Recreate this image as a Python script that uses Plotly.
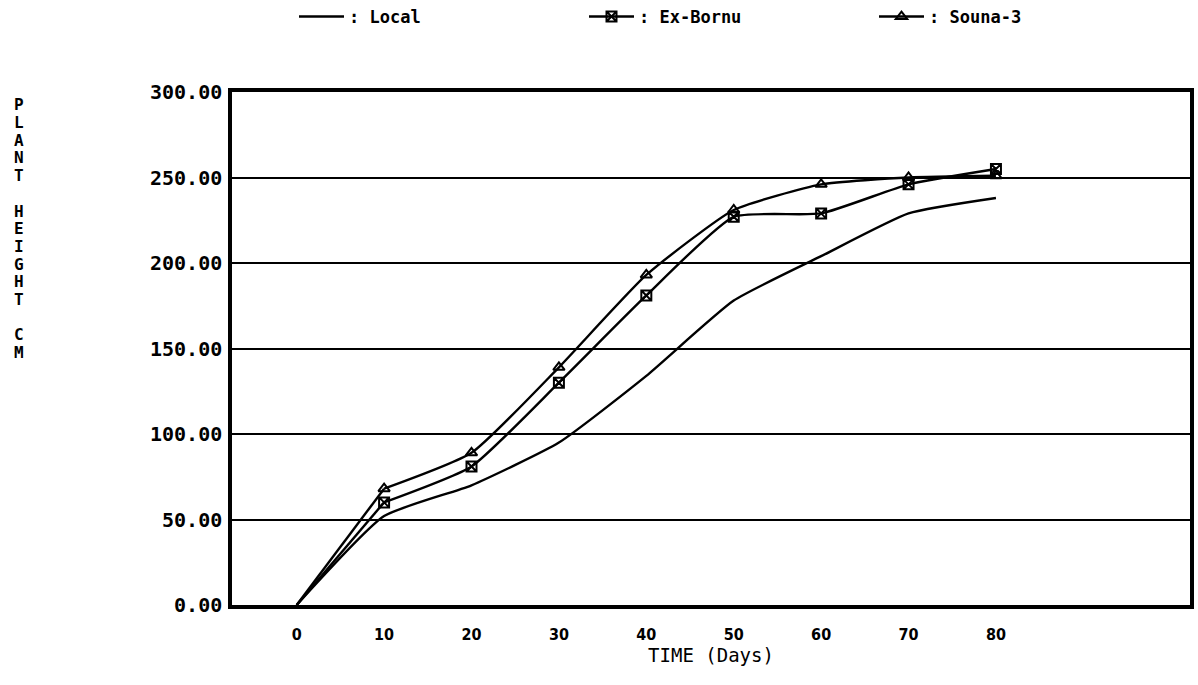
import plotly.graph_objects as go

days = [0, 10, 20, 30, 40, 50, 60, 70, 80]
local = [0, 52, 70, 95, 134, 178, 204, 229, 238]
ex_bornu = [0, 60, 81, 130, 181, 227, 229, 246, 255]
souna3 = [0, 68, 89, 139, 193, 231, 246, 250, 251]

series_names = [": Local", ": Ex-Bornu", ": Souna-3"]
x_ticks = [0, 10, 20, 30, 40, 50, 60, 70, 80]
y_ticks = [0, 50, 100, 150, 200, 250, 300]
y_title = "PLANT HEIGHT CM"

FONT = "DejaVu Sans Mono"
COND = "DejaVu Sans Condensed, DejaVu Sans"

fig = go.Figure()
fig.add_trace(go.Scatter(x=days, y=local, name=series_names[0], mode="lines",
                         line=dict(color="black", width=2.4, shape="spline", smoothing=0.5)))
fig.add_trace(go.Scatter(x=days[1:], y=ex_bornu[1:], name=series_names[1], mode="lines+markers",
                         line=dict(color="black", width=2.4, shape="spline", smoothing=0.5),
                         marker=dict(symbol="square-x-open", size=10, color="black",
                                     line=dict(width=2, color="black"))))
fig.add_trace(go.Scatter(x=days[1:], y=souna3[1:], name=series_names[2], mode="lines+markers",
                         line=dict(color="black", width=2.4, shape="spline", smoothing=0.5),
                         marker=dict(symbol="triangle-up-open", size=10, color="black",
                                     line=dict(width=2, color="black"))))
for vals in (ex_bornu, souna3):
    fig.add_trace(go.Scatter(x=days[:2], y=vals[:2], mode="lines", showlegend=False,
                             line=dict(color="black", width=2.4), hoverinfo="skip"))

fig.update_layout(
    width=1198, height=685,
    margin=dict(l=232, r=4, t=92, b=80),
    paper_bgcolor="white", plot_bgcolor="white",
    font=dict(family=FONT, color="black"),
    showlegend=True,
    legend=dict(orientation="h", xref="container", yref="container",
                x=294 / 1198, y=1 - 17 / 685, xanchor="left", yanchor="middle",
                entrywidth=230, entrywidthmode="pixels", itemwidth=45,
                font=dict(family=FONT, size=17, color="black", weight="bold"),
                bgcolor="rgba(0,0,0,0)"),
    xaxis=dict(range=[-7.4, 102.2], tickvals=x_ticks, ticktext=[str(v) for v in x_ticks],
               showgrid=False, zeroline=False, showline=True, linecolor="black", linewidth=3.5,
               mirror=True, ticks="", ticklabelstandoff=12,
               tickfont=dict(family=COND, size=16, color="black", weight="bold"),
               title=dict(text="TIME (Days)", font=dict(family=FONT, size=19, color="black"),
                          standoff=6)),
    yaxis=dict(range=[0, 300], tickvals=y_ticks, ticktext=[f"{v:.2f}" for v in y_ticks],
               showgrid=True, gridcolor="black", gridwidth=2, zeroline=False,
               showline=True, linecolor="black", linewidth=3.5, mirror=True, ticks="",
               ticklabelstandoff=2,
               tickfont=dict(family=FONT, size=20, color="black", weight="bold")),
)

# stacked vertical axis title, one letter per line
line_h = 17.7
top_px = 96
for i, ch in enumerate(y_title):
    if ch == " ":
        continue
    y_px = top_px + line_h * i + line_h / 2
    fig.add_annotation(text=ch, xref="paper", yref="paper",
                       x=-(232 - 18) / 962, y=1 - (y_px - 92) / 513,
                       showarrow=False, xanchor="center", yanchor="middle",
                       font=dict(family=FONT, size=16, color="black", weight="bold"))

fig.write_html("out.html")
